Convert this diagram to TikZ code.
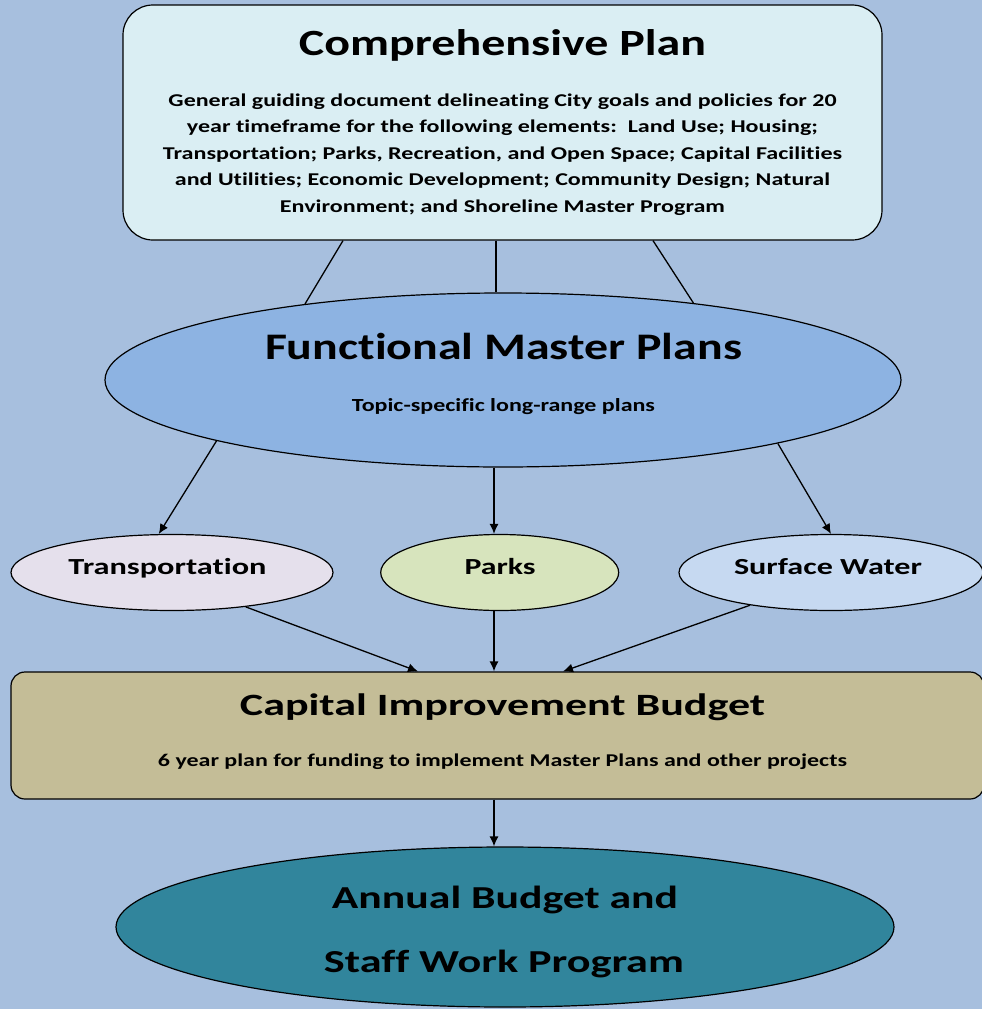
\documentclass[tikz,border=0pt]{standalone}
\usepackage{fontspec}
\setmainfont{Carlito}[Ligatures={NoCommon}]
\usepackage{graphicx}
\usetikzlibrary{shapes.geometric,arrows.meta}
\definecolor{bg}{HTML}{A7BFDE}
\definecolor{cpfill}{HTML}{DAEEF3}
\definecolor{fmpfill}{HTML}{8DB3E2}
\definecolor{trfill}{HTML}{E5E0EC}
\definecolor{pkfill}{HTML}{D7E4BD}
\definecolor{swfill}{HTML}{C6D9F1}
\definecolor{cibfill}{HTML}{C4BD97}
\definecolor{annfill}{HTML}{31859C}
\newcommand{\fitw}[3]{\resizebox{#1pt}{\height}{\fontsize{#2}{#2}\selectfont\bfseries #3}}
\tikzset{
  shapebox/.style={draw=black, line width=1.2pt, inner sep=0pt},
  oval/.style={shapebox, ellipse},
  txt/.style={inner sep=0pt, anchor=base, text=black},
  link/.style={draw=black, line width=1.3pt},
  arr/.style={link, -{Latex[length=10pt,width=9pt]}}
}
\begin{document}
\begin{tikzpicture}[x=1pt,y=-1pt]
\fill[bg] (0,0) rectangle (982,1009);
\useasboundingbox (0,0) rectangle (982,1009);

% Comprehensive Plan
\node[shapebox, rounded corners=30pt, fill=cpfill, minimum width=759pt, minimum height=235pt] (cp) at (502.5,122.5) {};
\node[txt] (cpt) at (502.5,55) {\fitw{407}{37}{Comprehensive Plan}};
\node[txt] (cpl1) at (502.5,106) {\fitw{668}{18}{General guiding document delineating City goals and policies for 20}};
\node[txt] (cpl2) at (502.5,132.5) {\fitw{631}{18}{year timeframe for the following elements:\ \ Land Use; Housing;}};
\node[txt] (cpl3) at (502.5,159) {\fitw{679}{18}{Transportation; Parks, Recreation, and Open Space; Capital Facilities}};
\node[txt] (cpl4) at (502.5,185.5) {\fitw{655}{18}{and Utilities; Economic Development; Community Design; Natural}};
\node[txt] (cpl5) at (502.5,212) {\fitw{445}{18}{Environment; and Shoreline Master Program}};

% Functional Master Plans
\node[oval, fill=fmpfill, minimum width=796pt, minimum height=174pt] (fmp) at (503,380) {};
\node[txt] (fmpt) at (503.5,359) {\fitw{477}{37.5}{Functional Master Plans}};
\node[txt] (fmps) at (503.5,411) {\fitw{303}{18.5}{Topic-specific long-range plans}};

% three plans
\node[oval, fill=trfill, minimum width=322pt, minimum height=76pt] (tr) at (172,572.5) {};
\node[txt] (trt) at (167.5,574) {\fitw{198}{23}{Transportation}};
\node[oval, fill=pkfill, minimum width=238pt, minimum height=76pt] (parks) at (499.7,572.5) {};
\node[txt] (pkt) at (500,574) {\fitw{71}{23}{Parks}};
\node[oval, fill=swfill, minimum width=304pt, minimum height=76pt] (sw) at (831,572.5) {};
\node[txt] (swt) at (828,574) {\fitw{188}{23}{Surface Water}};

% Capital Improvement Budget
\node[shapebox, rounded corners=14pt, fill=cibfill, minimum width=973pt, minimum height=127pt] (cib) at (497.5,735.5) {};
\node[txt] (cibt) at (502.5,715) {\fitw{525}{31}{Capital Improvement Budget}};
\node[txt] (cibs) at (502.5,766) {\fitw{689}{18}{6 year plan for funding to implement Master Plans and other projects}};

% Annual Budget
\node[oval, fill=annfill, minimum width=778pt, minimum height=160pt] (ann) at (505,927) {};
\node[txt] (annt1) at (505,908) {\fitw{346}{32}{Annual Budget and}};
\node[txt] (annt2) at (504,972) {\fitw{360}{32}{Staff Work Program}};

% connectors
\draw[link] ([xshift=-159.5pt]cp.south) -- (fmp.159);
\draw[link] ([xshift=-6.5pt]cp.south) -- ([xshift=-7pt]fmp.north);
\draw[link] ([xshift=150.5pt]cp.south) -- (fmp.22);

\draw[arr] (fmp.192) -- (tr.109);
\draw[arr] ([xshift=-9pt]fmp.south) -- ([xshift=-5.7pt]parks.north);
\draw[arr] (fmp.347) -- (sw.north);

\draw[arr] (tr.335) -- ([xshift=-79.5pt]cib.north);
\draw[arr] ([xshift=-5.7pt]parks.south) -- ([xshift=-3.5pt]cib.north);
\draw[arr] (sw.202) -- ([xshift=65.5pt]cib.north);

\draw[arr] ([xshift=-3.5pt]cib.south) -- ([xshift=-11pt]ann.north);
\end{tikzpicture}
\end{document}
